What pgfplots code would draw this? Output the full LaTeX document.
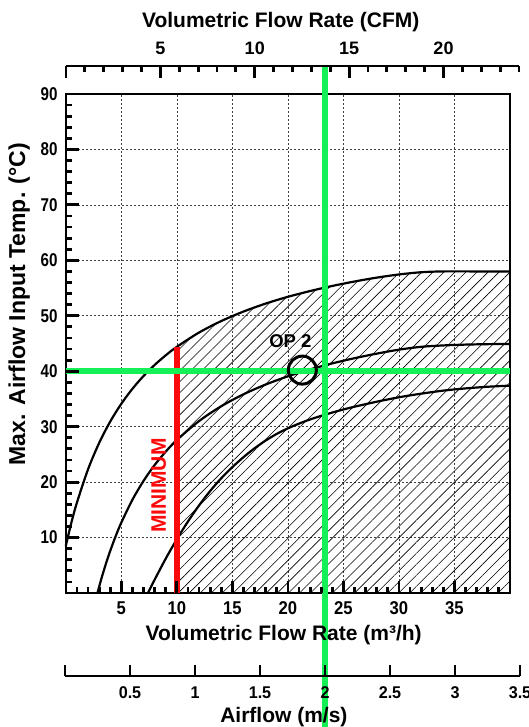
\documentclass[border=0pt]{standalone}
\usepackage{fontspec}
\setmainfont{Liberation Sans}
\newfontfamily\fy[FakeStretch=0.82]{Liberation Sans}
\newfontfamily\fx[FakeStretch=0.9]{Liberation Sans}
\newfontfamily\fa[FakeStretch=0.95]{Liberation Sans}
\usepackage{pgfplots}
\usepackage{pgfplotstable}
\pgfplotsset{compat=1.18}
\usetikzlibrary{patterns.meta}
\definecolor{mygreen}{RGB}{20,240,85}
\definecolor{myred}{RGB}{250,10,10}

\pgfplotstableread{
x y
0 8.5
0.5 12.67
1 16.29
2 22.29
3 27.05
4 30.92
5 34.13
6 36.83
7 39.14
8 41.13
9 42.87
10 44.4
12 46.98
14 49.05
16 50.76
18 52.20
20 53.42
22 54.46
24 55.38
26 56.18
28 56.88
30 57.45
32 57.85
34 58.0
37 58.0
40 58.0
}\curveA

\pgfplotstableread{
x y
2.85 0
3.2 2.55
3.6 5.20
4.0 7.60
4.5 10.29
5 12.70
6 16.82
7 20.22
8 23.08
9 25.50
10 27.59
12 31.01
14 33.69
16 35.84
18 37.60
20 39.08
22 40.33
24 41.41
26 42.35
28 43.17
30 43.89
32 44.4
34 44.65
36 44.8
38 44.88
40 44.92
}\curveB

\pgfplotstableread{
x y
7.4 0
8 2.4
9 6.2
10 9.7
11 12.9
12 15.8
13 18.4
14 20.7
15 22.7
16 24.5
17 26.1
18 27.5
19 28.7
20 29.7
21 30.55
22 31.3
23 31.95
24 32.55
25 33.1
26 33.6
28 34.5
30 35.3
32 35.95
34 36.5
36 36.9
38 37.2
40 37.4
}\curveC

\begin{document}
\begin{tikzpicture}
% ---------- main axis ----------
\begin{axis}[
  at={(65.8pt,134pt)}, anchor=south west,
  scale only axis, width=444.2pt, height=499pt,
  xmin=0, xmax=40, ymin=0, ymax=90,
  clip=false,
  axis line style={line width=2.6pt, black},
  xtick pos=bottom, ytick pos=left, tick align=inside,
  xtick={5,10,...,35}, ytick={10,20,...,90},
  tick style={draw=none},
  grid=major,
  major grid style={dash pattern=on 2pt off 2pt, black!75, line width=0.6pt},
  /pgf/number format/assume math mode=true,
  xticklabel style={font=\fx\bfseries\fontsize{18.5}{18.5}\selectfont, anchor=center, yshift=-15pt},
  yticklabel style={font=\fy\bfseries\fontsize{18.5}{18.5}\selectfont, anchor=east, inner sep=0pt, xshift=-8pt},
  xlabel={Volumetric Flow Rate (m³/h)},
  xlabel style={font=\bfseries\fontsize{21}{21}\selectfont, at={(axis description cs:0.4905,0)}, anchor=center, yshift=-42pt},
  ylabel={Max. Airflow Input Temp. (°C)},
  ylabel style={font=\bfseries\fontsize{23}{23}\selectfont, at={(axis description cs:-0.105,0.579)}, anchor=center},
]
% hatched admissible region
\addplot[draw=none, pattern={Lines[angle=45, distance=7.8pt, line width=0.6pt]}, smooth]
  table[x=x, y=y, restrict x to domain=10:40] {\curveA} \closedcycle;
% curves
\addplot[black, line width=2.2pt, smooth] table[x=x,y=y] {\curveA};
\addplot[black, line width=2.2pt, smooth] table[x=x,y=y] {\curveB};
\addplot[black, line width=2.2pt, smooth] table[x=x,y=y] {\curveC};
% minimum line
\addplot[myred, line width=6pt] coordinates {(10,0) (10,44.4)};
% operating point lines
\addplot[mygreen, line width=6pt] coordinates {(0,40) (40,40)};
\addplot[mygreen, line width=6pt] coordinates {(23.35,-25) (23.35,94.93)};
% operating point circle
\addplot[black, only marks, mark=o, mark size=14pt, mark options={line width=3pt}] coordinates {(21.3,40.2)};
\node[font=\bfseries\fontsize{18.5}{18.5}\selectfont] at (axis cs:20.22,45.5) {OP 2};
\node[rotate=90, text=myred, font=\bfseries\fontsize{21}{21}\selectfont] at (axis cs:8.38,19.35) {MINIMUM};
% tick marks (inside), lengths given in axis units
\pgfplotsinvokeforeach{1,...,39}{\draw[line width=2.8pt] (axis cs:#1,0) -- (axis cs:#1,1.15);}
\pgfplotsinvokeforeach{5,10,...,35}{\draw[line width=2.8pt] (axis cs:#1,0) -- (axis cs:#1,2.2);}
\pgfplotsinvokeforeach{2,4,...,88}{\draw[line width=2.8pt] (axis cs:0,#1) -- (axis cs:0.6,#1);}
\pgfplotsinvokeforeach{10,20,...,80}{\draw[line width=2.8pt] (axis cs:0,#1) -- (axis cs:1.15,#1);}
\end{axis}

% ---------- top CFM axis ----------
\begin{axis}[
  at={(66pt,660pt)}, anchor=south west,
  scale only axis, width=453pt, height=1pt,
  xmin=0, xmax=24, ymin=0, ymax=1,
  clip=false,
  axis y line=none, axis x line*=top,
  axis line style={line width=2.4pt, black},
  xtick={0,5,10,15,20}, xticklabels={,5,10,15,20},
  tick style={draw=none},
  xticklabel style={font=\bfseries\fontsize{18}{18}\selectfont, anchor=center, yshift=18pt},
  xlabel={Volumetric Flow Rate (CFM)},
  xlabel style={font=\bfseries\fontsize{21}{21}\selectfont, at={(axis description cs:0.474,1)}, anchor=center, yshift=43.5pt},
]
\pgfplotsinvokeforeach{1,...,24}{\draw[line width=2.8pt] (axis cs:#1,1) -- (axis cs:#1,-5);}
\pgfplotsinvokeforeach{0,5,10,15,20}{\draw[line width=2.8pt] (axis cs:#1,1) -- (axis cs:#1,-11);}
\end{axis}

% ---------- bottom airflow axis ----------
\begin{axis}[
  at={(65pt,51pt)}, anchor=south west,
  scale only axis, width=455pt, height=1pt,
  xmin=0, xmax=3.5, ymin=0, ymax=1,
  clip=false,
  axis y line=none, axis x line*=bottom,
  axis line style={line width=2.4pt, black},
  xtick={0,0.5,1,1.5,2,2.5,3,3.5}, xticklabels={,0.5,1,1.5,2,2.5,3,3.5},
  tick style={draw=none},
  xticklabel style={font=\fa\bfseries\fontsize{17}{17}\selectfont, anchor=center, yshift=-17pt},
  xlabel={Airflow (m/s)},
  xlabel style={font=\bfseries\fontsize{21}{21}\selectfont, at={(axis description cs:0.481,0)}, anchor=center, yshift=-40.7pt},
]
\pgfplotsinvokeforeach{0,0.5,1,1.5,2,2.5,3,3.5}{\draw[line width=2.8pt] (axis cs:#1,0) -- (axis cs:#1,11);}
\end{axis}
\pgfresetboundingbox
\useasboundingbox (0,0) rectangle (529pt,727pt);
\end{tikzpicture}
\end{document}
